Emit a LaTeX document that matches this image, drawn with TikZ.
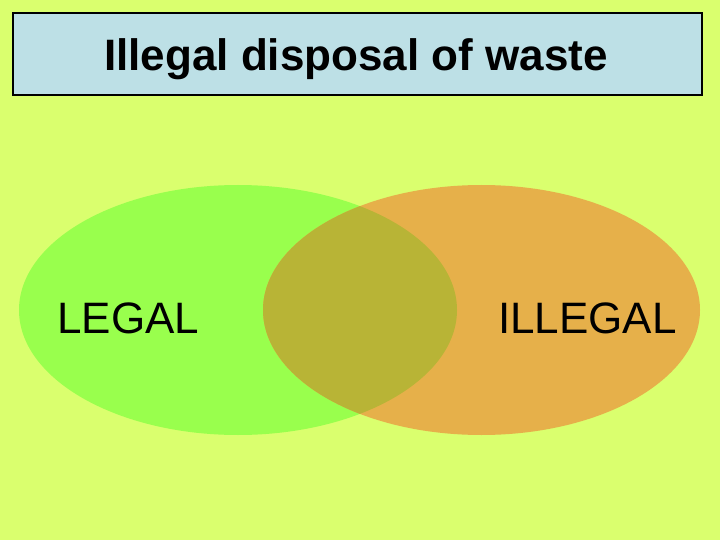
\documentclass[tikz,border=0pt]{standalone}
\usepackage{fontspec}
\setmainfont{Liberation Sans}
\definecolor{bgyellow}{RGB}{218,255,110}
\definecolor{titleblue}{RGB}{189,224,230}
\definecolor{legalgreen}{RGB}{153,255,77}
\definecolor{illegalorange}{RGB}{230,176,74}
\definecolor{overlapolive}{RGB}{184,180,54}
\tikzset{
  setlabel/.style={font=\fontsize{44}{50}\selectfont, text=black, inner sep=0pt, anchor=base west}
}
\begin{document}
\begin{tikzpicture}[x=1pt,y=-1pt]
    \fill[bgyellow] (0,0) rectangle (720,540);
    \useasboundingbox (0,0) rectangle (720,540);
    % title
    \node[draw=black, line width=2pt, fill=titleblue, minimum width=689pt, minimum height=82pt, inner sep=0pt] (titlebox) at (357.5,54) {};
    \node[inner sep=0pt, anchor=base, font=\bfseries\fontsize{44}{50}\selectfont] (title) at (356,71) {Illegal disposal of waste};
    % the two sets
    \fill[legalgreen] (238,310) ellipse [x radius=219, y radius=125];
    \fill[illegalorange] (481.5,310) ellipse [x radius=218.5, y radius=125];
    \begin{scope}
      \clip (238,310) ellipse [x radius=219, y radius=125];
      \fill[overlapolive] (481.5,310) ellipse [x radius=218.5, y radius=125];
    \end{scope}
    \node[setlabel] (legal) at (57,333) {LEGAL};
    \node[setlabel] (illegal) at (498,333) {ILLEGAL};
  \end{tikzpicture}
\end{document}
